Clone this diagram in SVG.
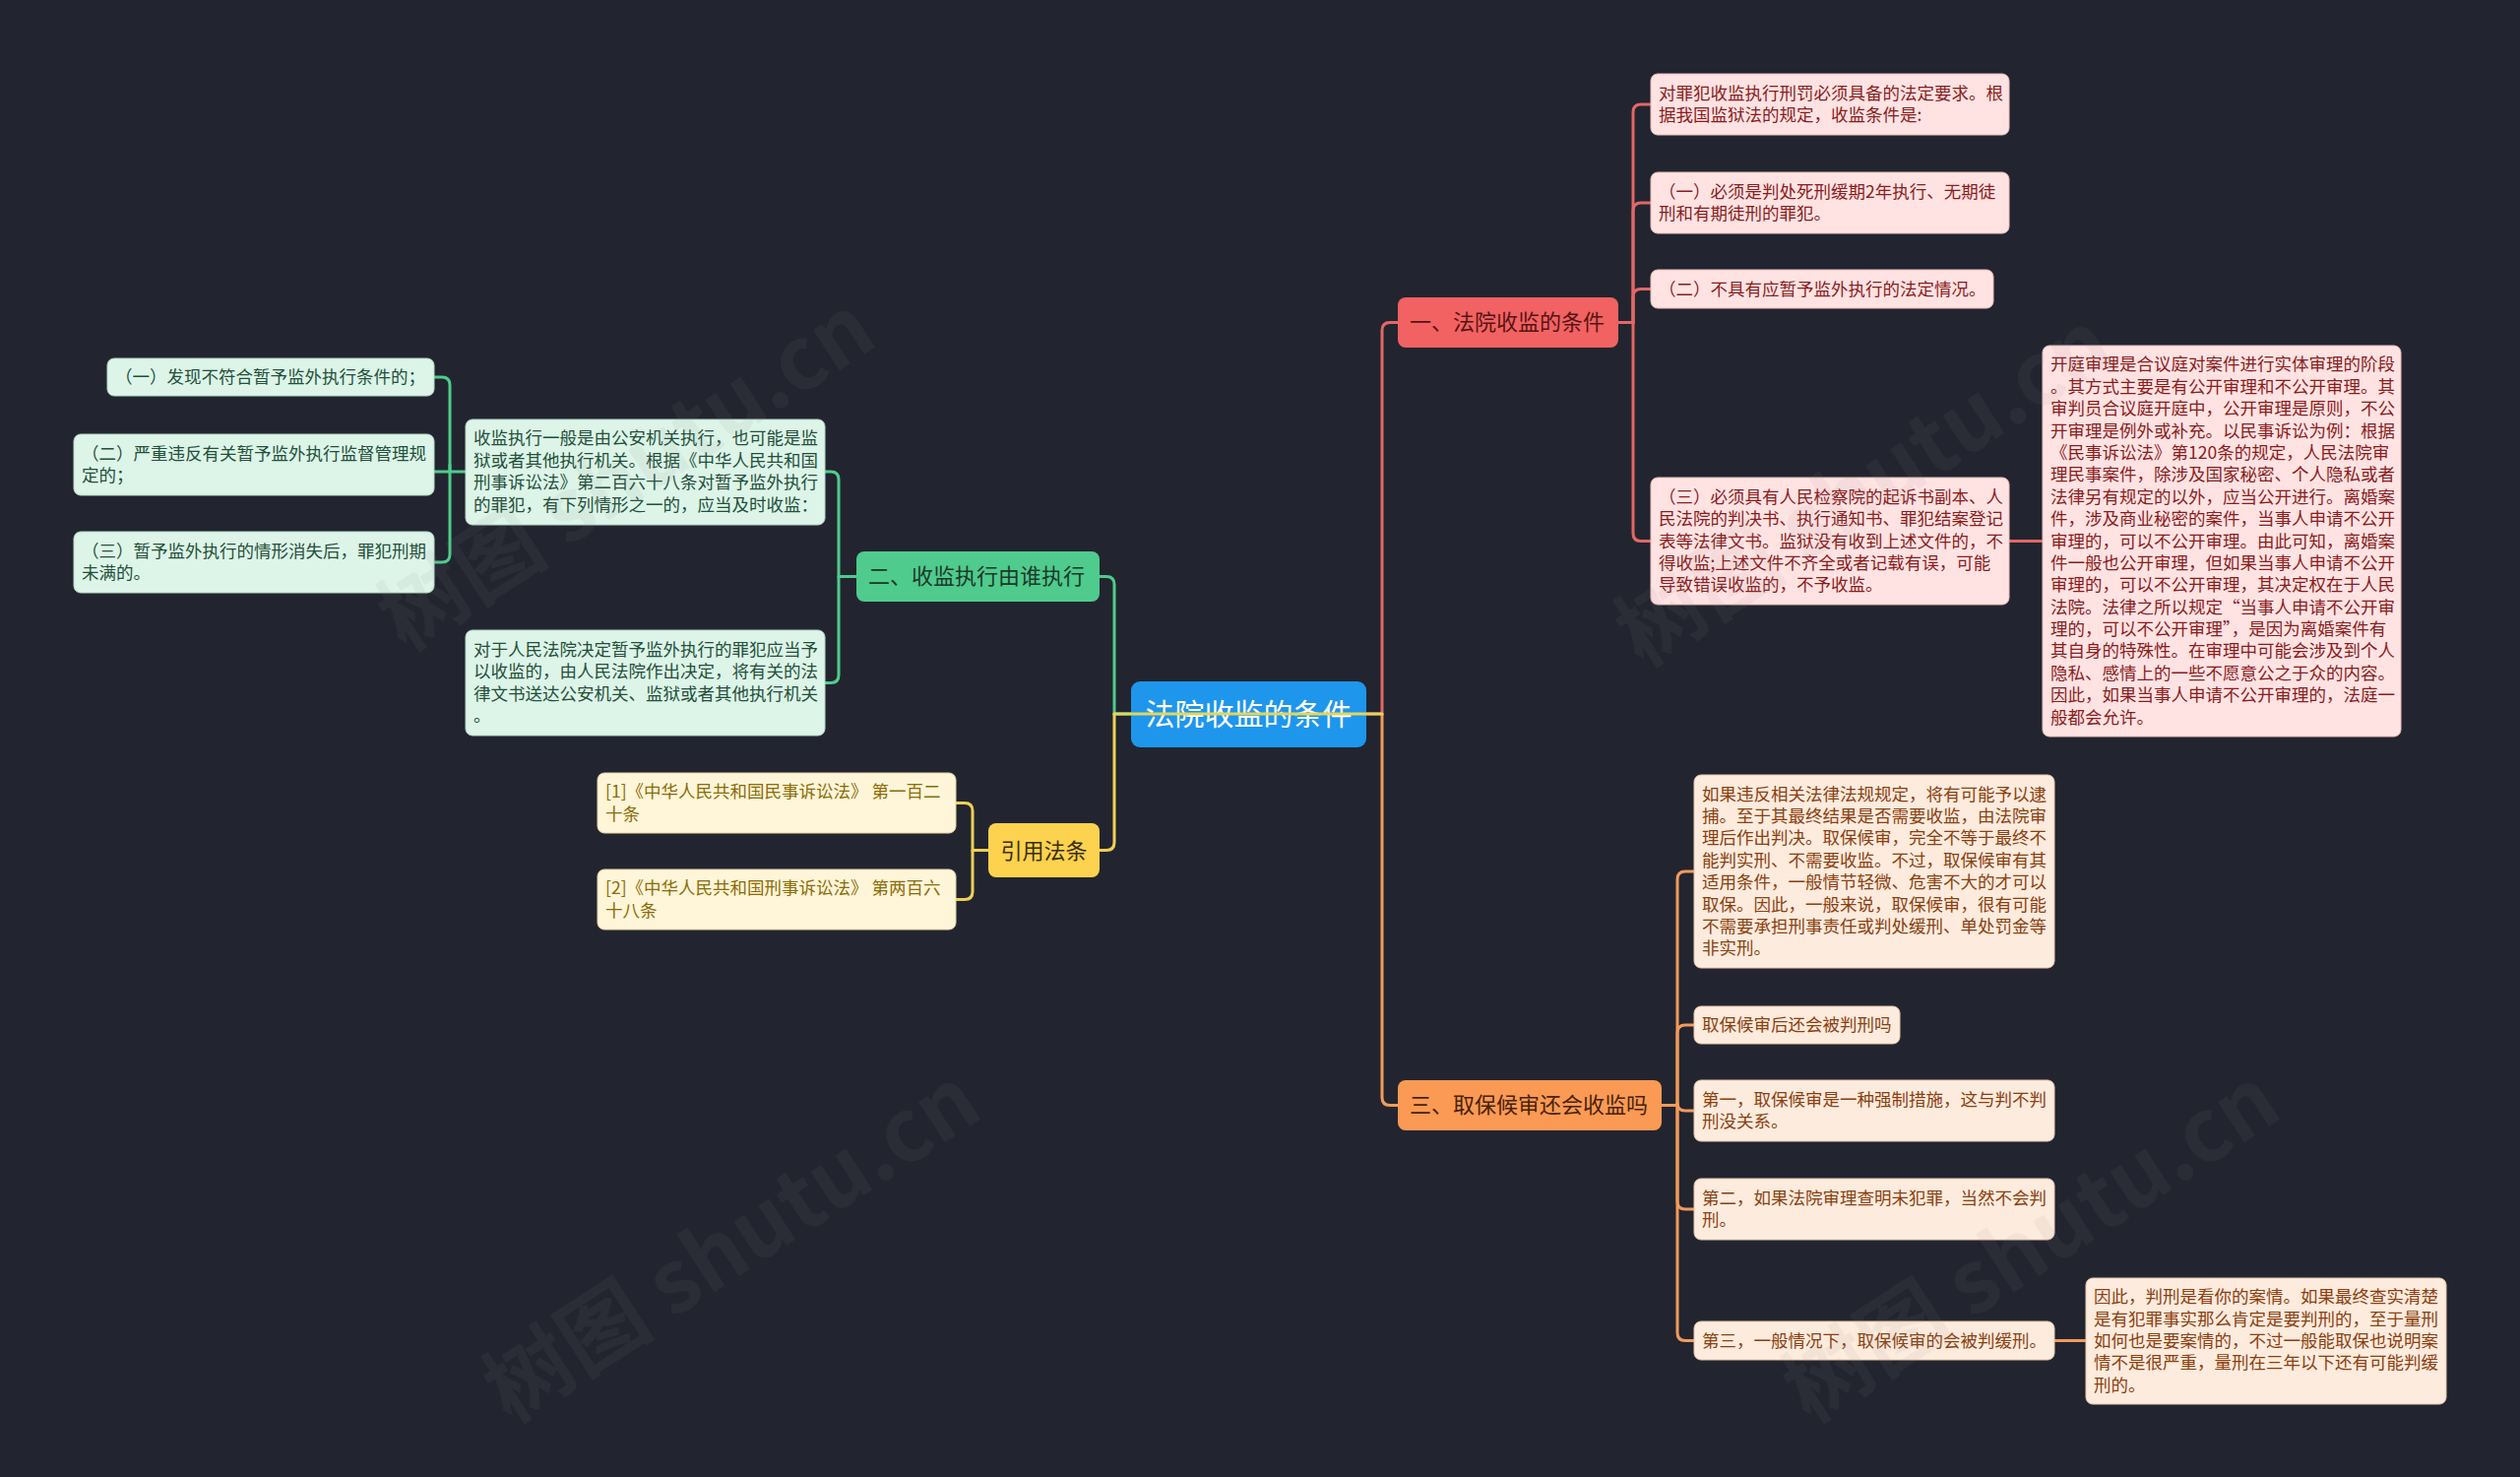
<svg xmlns="http://www.w3.org/2000/svg" width="2560" height="1500" viewBox="0 0 2560 1500">
<style>
text{font-family:"Noto Sans CJK SC","Noto Sans",sans-serif;}
.lf{font-size:17.5px;}
.br{font-size:22px;}
.c{fill:none;stroke-width:3;stroke-linecap:round;}
.cr{stroke:#e46767;}
.cg{stroke:#4fcb8d;}
.cy{stroke:#f0cf55;}
.co{stroke:#f29a5c;}
.rl{fill:#ffe3e3;stroke:#e9bcbc;stroke-width:1;}
.gl{fill:#ddf4e8;stroke:#b5d9c6;stroke-width:1;}
.yl{fill:#fff5d8;stroke:#e5d6a8;stroke-width:1;}
.ol{fill:#fdebdd;stroke:#e8c9b0;stroke-width:1;}
.rt{fill:#8a1c1c;}
.gt{fill:#23503a;}
.yt{fill:#8a6c08;}
.ot{fill:#8a4010;}
.wm{font-size:88px;fill:#8a8a8a;opacity:0.08;font-weight:bold;}
</style>
<rect x="0" y="0" width="2560" height="1500" fill="#22252f"/>

<g id="connectors">
  <path class="c cg" d="M1149 725 H1132 V593.5 Q1132 585.5 1124 585.5 H1117"/>
  <path class="c cy" d="M1132 725 V855.5 Q1132 863.5 1124 863.5 H1117"/>
  <path class="c cr" d="M1388 725 H1404 V335.5 Q1404 327.5 1412 327.5 H1420"/>
  <path class="c co" d="M1404 725 V1114.5 Q1404 1122.5 1412 1122.5 H1420"/>
  <path class="c cr" d="M1644 327.5 H1659 V114 Q1659 106 1667 106 H1677"/>
  <path class="c cr" d="M1659 327.5 V214 Q1659 206 1667 206 H1677"/>
  <path class="c cr" d="M1659 327.5 V301.5 Q1659 293.5 1667 293.5 H1677"/>
  <path class="c cr" d="M1659 327.5 V541.5 Q1659 549.5 1667 549.5 H1677"/>
  <path class="c cr" d="M2041 549.5 H2075"/>
  <path class="c cg" d="M870 585.5 H852 V487 Q852 479 844 479 H838"/>
  <path class="c cg" d="M852 585.5 V685.5 Q852 693.5 844 693.5 H838"/>
  <path class="c cg" d="M473 479 H457 V391 Q457 383 449 383 H441"/>
  <path class="c cg" d="M457 479 H441"/>
  <path class="c cg" d="M457 472 V563 Q457 571 449 571 H441"/>
  <path class="c cy" d="M1004 863.5 H988 V823.5 Q988 815.5 980 815.5 H971"/>
  <path class="c cy" d="M988 863.5 V905.5 Q988 913.5 980 913.5 H971"/>
  <path class="c co" d="M1688 1122.5 H1704 V893 Q1704 885 1712 885 H1721"/>
  <path class="c co" d="M1704 1122.5 V1049 Q1704 1041 1712 1041 H1721"/>
  <path class="c co" d="M1704 1122.5 V1120 Q1704 1128 1712 1128 H1721"/>
  <path class="c co" d="M1704 1122.5 V1220 Q1704 1228 1712 1228 H1721"/>
  <path class="c co" d="M1704 1122.5 V1353.5 Q1704 1361.5 1712 1361.5 H1721"/>
  <path class="c co" d="M2087 1361.5 H2119"/>
</g>

<g id="root">
  <rect x="1149" y="692" width="239" height="67" rx="9" fill="#1e96ec"/>
  <text x="1268.5" y="736" font-size="30" fill="#ffffff" text-anchor="middle">法院收监的条件</text>
</g>
<path class="c" stroke="#e3d55e" stroke-width="3" d="M1132 725 H1404"/>

<g id="b1">
  <rect x="1420" y="302" width="224" height="51" rx="8" fill="#f26262"/>
  <text class="br" x="1432" y="335" fill="#561414">一、法院收监的条件</text>
</g>
<g id="b2">
  <rect x="870" y="560" width="247" height="51" rx="8" fill="#4fcb8d"/>
  <text class="br" x="882" y="593" fill="#1b3a2a">二、收监执行由谁执行</text>
</g>
<g id="b-cite">
  <rect x="1004" y="836" width="113" height="55" rx="8" fill="#fdd24e"/>
  <text class="br" x="1060.5" y="871.5" fill="#3a2e00" text-anchor="middle">引用法条</text>
</g>
<g id="b3">
  <rect x="1420" y="1097" width="268" height="51" rx="8" fill="#fa9a55"/>
  <text class="br" x="1432" y="1130" fill="#4a2208">三、取保候审还会收监吗</text>
</g>

<g id="l1">
  <rect class="rl" x="1677" y="75" width="364" height="62" rx="7"/>
  <text class="lf rt" x="1685" y="100.8">对罪犯收监执行刑罚必须具备的法定要求。根<tspan x="1685" dy="22.4">据我国监狱法的规定，收监条件是:</tspan></text>
</g>
<g id="l2">
  <rect class="rl" x="1677" y="175" width="364" height="62" rx="7"/>
  <text class="lf rt" x="1685" y="200.8">（一）必须是判处死刑缓期2年执行、无期徒<tspan x="1685" dy="22.4">刑和有期徒刑的罪犯。</tspan></text>
</g>
<g id="l3">
  <rect class="rl" x="1677" y="274" width="348" height="39" rx="7"/>
  <text class="lf rt" x="1685" y="299.5">（二）不具有应暂予监外执行的法定情况。</text>
</g>
<g id="l4">
  <rect class="rl" x="1677" y="485" width="364" height="129" rx="7"/>
  <text class="lf rt" x="1685" y="510.7">（三）必须具有人民检察院的起诉书副本、人<tspan x="1685" dy="22.4">民法院的判决书、执行通知书、罪犯结案登记</tspan><tspan x="1685" dy="22.4">表等法律文书。监狱没有收到上述文件的，不</tspan><tspan x="1685" dy="22.4">得收监;上述文件不齐全或者记载有误，可能</tspan><tspan x="1685" dy="22.4">导致错误收监的，不予收监。</tspan></text>
</g>
<g id="l5">
  <rect class="rl" x="2075" y="351" width="364" height="397" rx="7"/>
  <text class="lf rt" x="2083" y="376.3">开庭审理是合议庭对案件进行实体审理的阶段<tspan x="2083" dy="22.4">。其方式主要是有公开审理和不公开审理。其</tspan><tspan x="2083" dy="22.4">审判员合议庭开庭中，公开审理是原则，不公</tspan><tspan x="2083" dy="22.4">开审理是例外或补充。以民事诉讼为例：根据</tspan><tspan x="2083" dy="22.4">《民事诉讼法》第120条的规定，人民法院审</tspan><tspan x="2083" dy="22.4">理民事案件，除涉及国家秘密、个人隐私或者</tspan><tspan x="2083" dy="22.4">法律另有规定的以外，应当公开进行。离婚案</tspan><tspan x="2083" dy="22.4">件，涉及商业秘密的案件，当事人申请不公开</tspan><tspan x="2083" dy="22.4">审理的，可以不公开审理。由此可知，离婚案</tspan><tspan x="2083" dy="22.4">件一般也公开审理，但如果当事人申请不公开</tspan><tspan x="2083" dy="22.4">审理的，可以不公开审理，其决定权在于人民</tspan><tspan x="2083" dy="22.4">法院。法律之所以规定“当事人申请不公开审</tspan><tspan x="2083" dy="22.4">理的，可以不公开审理”，是因为离婚案件有</tspan><tspan x="2083" dy="22.4">其自身的特殊性。在审理中可能会涉及到个人</tspan><tspan x="2083" dy="22.4">隐私、感情上的一些不愿意公之于众的内容。</tspan><tspan x="2083" dy="22.4">因此，如果当事人申请不公开审理的，法庭一</tspan><tspan x="2083" dy="22.4">般都会允许。</tspan></text>
</g>

<g id="g1">
  <rect class="gl" x="473" y="426" width="365" height="107" rx="7"/>
  <text class="lf gt" x="481" y="451.4">收监执行一般是由公安机关执行，也可能是监<tspan x="481" dy="22.4">狱或者其他执行机关。根据《中华人民共和国</tspan><tspan x="481" dy="22.4">刑事诉讼法》第二百六十八条对暂予监外执行</tspan><tspan x="481" dy="22.4">的罪犯，有下列情形之一的，应当及时收监：</tspan></text>
</g>
<g id="g2">
  <rect class="gl" x="473" y="640" width="365" height="107" rx="7"/>
  <text class="lf gt" x="481" y="665.9">对于人民法院决定暂予监外执行的罪犯应当予<tspan x="481" dy="22.4">以收监的，由人民法院作出决定，将有关的法</tspan><tspan x="481" dy="22.4">律文书送达公安机关、监狱或者其他执行机关</tspan><tspan x="481" dy="22.4">。</tspan></text>
</g>
<g id="g1a">
  <rect class="gl" x="109" y="364" width="332" height="38" rx="7"/>
  <text class="lf gt" x="117" y="389">（一）发现不符合暂予监外执行条件的；</text>
</g>
<g id="g1b">
  <rect class="gl" x="75" y="441" width="366" height="62" rx="7"/>
  <text class="lf gt" x="83" y="466.8">（二）严重违反有关暂予监外执行监督管理规<tspan x="83" dy="22.4">定的；</tspan></text>
</g>
<g id="g1c">
  <rect class="gl" x="75" y="540" width="366" height="62" rx="7"/>
  <text class="lf gt" x="83" y="565.8">（三）暂予监外执行的情形消失后，罪犯刑期<tspan x="83" dy="22.4">未满的。</tspan></text>
</g>

<g id="y1">
  <rect class="yl" x="607" y="785" width="364" height="61" rx="7"/>
  <text class="lf yt" x="615" y="810.3">[1]《中华人民共和国民事诉讼法》 第一百二<tspan x="615" dy="22.4">十条</tspan></text>
</g>
<g id="y2">
  <rect class="yl" x="607" y="883" width="364" height="61" rx="7"/>
  <text class="lf yt" x="615" y="908.3">[2]《中华人民共和国刑事诉讼法》 第两百六<tspan x="615" dy="22.4">十八条</tspan></text>
</g>

<g id="o1">
  <rect class="ol" x="1721" y="787" width="366" height="196" rx="7"/>
  <text class="lf ot" x="1729" y="812.6">如果违反相关法律法规规定，将有可能予以逮<tspan x="1729" dy="22.4">捕。至于其最终结果是否需要收监，由法院审</tspan><tspan x="1729" dy="22.4">理后作出判决。取保候审，完全不等于最终不</tspan><tspan x="1729" dy="22.4">能判实刑、不需要收监。不过，取保候审有其</tspan><tspan x="1729" dy="22.4">适用条件，一般情节轻微、危害不大的才可以</tspan><tspan x="1729" dy="22.4">取保。因此，一般来说，取保候审，很有可能</tspan><tspan x="1729" dy="22.4">不需要承担刑事责任或判处缓刑、单处罚金等</tspan><tspan x="1729" dy="22.4">非实刑。</tspan></text>
</g>
<g id="o2">
  <rect class="ol" x="1721" y="1022" width="209" height="38" rx="7"/>
  <text class="lf ot" x="1729" y="1047">取保候审后还会被判刑吗</text>
</g>
<g id="o3">
  <rect class="ol" x="1721" y="1097" width="366" height="62" rx="7"/>
  <text class="lf ot" x="1729" y="1122.8">第一，取保候审是一种强制措施，这与判不判<tspan x="1729" dy="22.4">刑没关系。</tspan></text>
</g>
<g id="o4">
  <rect class="ol" x="1721" y="1197" width="366" height="62" rx="7"/>
  <text class="lf ot" x="1729" y="1222.8">第二，如果法院审理查明未犯罪，当然不会判<tspan x="1729" dy="22.4">刑。</tspan></text>
</g>
<g id="o5">
  <rect class="ol" x="1721" y="1342" width="366" height="39" rx="7"/>
  <text class="lf ot" x="1729" y="1367.5">第三，一般情况下，取保候审的会被判缓刑。</text>
</g>
<g id="o6">
  <rect class="ol" x="2119" y="1298" width="366" height="128" rx="7"/>
  <text class="lf ot" x="2127" y="1323.2">因此，判刑是看你的案情。如果最终查实清楚<tspan x="2127" dy="22.4">是有犯罪事实那么肯定是要判刑的，至于量刑</tspan><tspan x="2127" dy="22.4">如何也是要案情的，不过一般能取保也说明案</tspan><tspan x="2127" dy="22.4">情不是很严重，量刑在三年以下还有可能判缓</tspan><tspan x="2127" dy="22.4">刑的。</tspan></text>
</g>

<g id="watermarks">
  <text class="wm" transform="translate(653 506) rotate(-33)" text-anchor="middle">树图 shutu.cn</text>
  <text class="wm" transform="translate(1910 522) rotate(-33)" text-anchor="middle">树图 shutu.cn</text>
  <text class="wm" transform="translate(760 1290) rotate(-33)" text-anchor="middle">树图 shutu.cn</text>
  <text class="wm" transform="translate(2080 1290) rotate(-33)" text-anchor="middle">树图 shutu.cn</text>
</g>
</svg>
